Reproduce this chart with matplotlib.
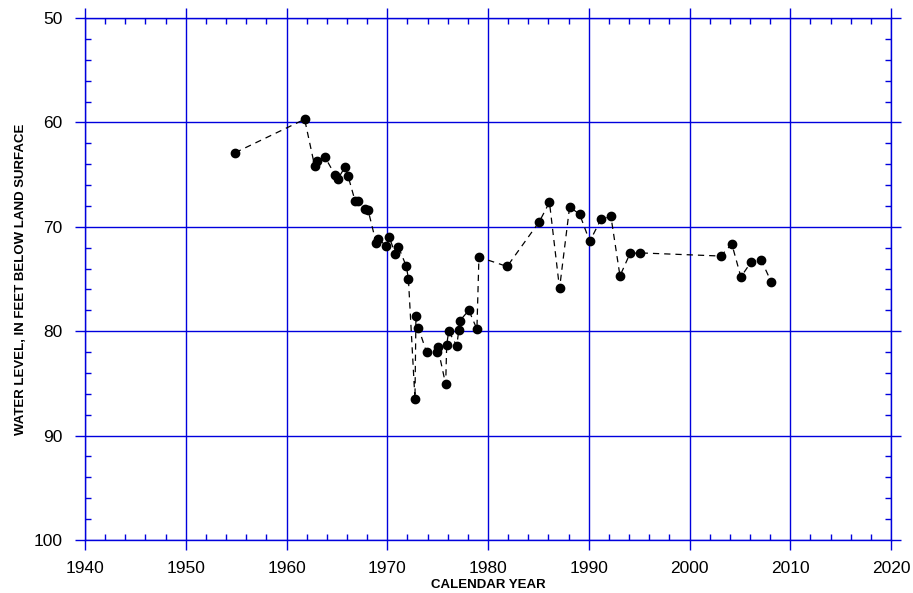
import matplotlib
matplotlib.use('Agg')
from matplotlib import pyplot as plt
from matplotlib.ticker import MultipleLocator

plt.rcParams['font.family'] = ['Liberation Sans', 'DejaVu Sans']

years = [1954.9, 1961.8, 1962.8, 1963.0, 1963.8, 1964.8, 1965.1, 1965.8, 1966.1,
         1966.8, 1967.1, 1967.8, 1968.1, 1968.9, 1969.1, 1969.9, 1970.2, 1970.8,
         1971.1, 1971.9, 1972.1, 1972.75, 1972.85, 1973.1, 1973.9, 1974.9, 1975.0,
         1975.8, 1975.9, 1976.1, 1976.9, 1977.1, 1977.2, 1978.1, 1978.9, 1979.1,
         1981.9, 1985.1, 1986.1, 1987.1, 1988.1, 1989.1, 1990.1, 1991.2, 1992.2,
         1993.1, 1994.1, 1995.1, 2003.1, 2004.2, 2005.1, 2006.1, 2007.1, 2008.1]
levels = [62.9, 59.7, 64.2, 63.7, 63.3, 65.0, 65.4, 64.3, 65.1,
          67.5, 67.5, 68.3, 68.4, 71.55, 71.2, 71.8, 71.0, 72.6,
          71.9, 73.8, 75.0, 86.5, 78.5, 79.7, 82.0, 82.0, 81.5,
          85.1, 81.3, 80.0, 81.4, 79.9, 79.0, 78.0, 79.8, 72.9,
          73.8, 69.5, 67.65, 75.9, 68.1, 68.8, 71.4, 69.3, 69.0,
          74.7, 72.55, 72.5, 72.8, 71.65, 74.8, 73.4, 73.15, 75.25]

xticks = [1940, 1950, 1960, 1970, 1980, 1990, 2000, 2010, 2020]
yticks = [50, 60, 70, 80, 90, 100]

blue = '#0000dd'

fig = plt.figure(figsize=(9.13, 5.93), dpi=100)
ax = fig.add_axes([85/913, 1 - 540/593, (891-85)/913, (540-18)/593])

ax.plot(years, levels, color='black', linestyle=(0, (5, 4)), linewidth=0.9,
        marker='o', markersize=6, markerfacecolor='black', markeredgecolor='black',
        zorder=3)

ax.set_xlim(1940, 2020)
ax.set_ylim(100, 50)
ax.set_xticks(xticks)
ax.set_yticks(yticks)
ax.xaxis.set_minor_locator(MultipleLocator(2))
ax.yaxis.set_minor_locator(MultipleLocator(2))

ax.grid(True, which='major', color=blue, linewidth=1.0)
for s in ax.spines.values():
    s.set_color(blue)
    s.set_linewidth(1.0)

ax.tick_params(which='major', direction='out', length=7, width=1.0, color=blue,
               top=True, right=True, labelsize=12.5)
ax.tick_params(axis='x', which='major', pad=8)
ax.tick_params(axis='y', which='major', pad=9)
ax.tick_params(which='minor', direction='in', length=4.5, width=1.0, color=blue,
               top=True, right=True)

ax.set_xlabel('CALENDAR YEAR', fontsize=9.5, fontweight='bold', labelpad=2.5)
ax.set_ylabel('WATER LEVEL, IN FEET BELOW LAND SURFACE', fontsize=9.5,
              fontweight='bold', labelpad=5)

plt.savefig('out.png', dpi=100)
